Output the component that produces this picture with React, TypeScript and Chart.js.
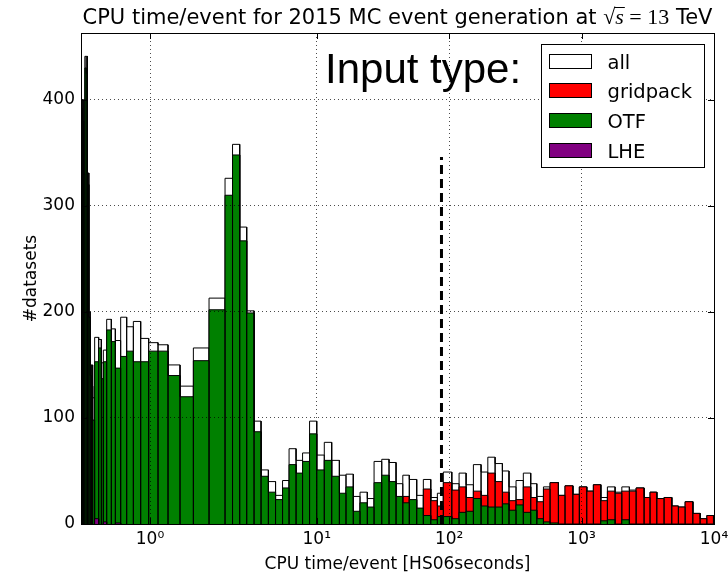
import React, { useEffect, useRef } from "react";
import { Chart, registerables } from "chart.js";

Chart.register(...registerables);

// ---------------- data ----------------
// bin edges, as log10 of CPU time/event [HS06 seconds]
const binEdgesLog10 = [
  -0.414, -0.406, -0.398, -0.391, -0.383, -0.375, -0.367, -0.359, -0.352, -0.344,
  -0.332, -0.308, -0.292, -0.28, -0.26, -0.232, -0.208, -0.176, -0.14, -0.1,
  -0.056, -0.008, 0.048, 0.108, 0.18, 0.26, 0.354, 0.45, 0.495, 0.538,
  0.58, 0.624, 0.666, 0.71, 0.753, 0.795, 0.834, 0.876, 0.915, 0.957,
  1.0, 1.057, 1.113, 1.171, 1.221, 1.276, 1.327, 1.382, 1.433, 1.491,
  1.546, 1.599, 1.65, 1.699, 1.755, 1.805, 1.861, 1.911, 1.956, 2.02,
  2.075, 2.128, 2.183, 2.241, 2.292, 2.347, 2.402, 2.452, 2.505, 2.56,
  2.616, 2.662, 2.712, 2.762, 2.825, 2.875, 2.934, 2.983, 3.039, 3.089,
  3.145, 3.195, 3.253, 3.304, 3.361, 3.412, 3.472, 3.517, 3.568, 3.623,
  3.681, 3.731, 3.782, 3.84, 3.895, 3.946, 3.996,
];

const allCounts = [
  400, 400, 400, 441, 441, 331, 200, 150, 150, 119,
  176, 174, 152, 164, 193, 184, 173, 195, 186, 191,
  175, 171, 169, 150, 130, 166, 213, 326, 358, 280,
  201, 97, 51, 40, 27, 41, 71, 60, 67, 97,
  65, 77, 60, 46, 47, 26, 30, 24, 59, 61,
  58, 38, 46, 42, 27, 42, 25, 29, 49, 38,
  48, 37, 56, 49, 63, 57, 50, 35, 41, 48,
  38, 26, 35, 39, 27, 36, 28, 35, 31, 37,
  25, 35, 30, 35, 32, 34, 25, 30, 24, 25,
  17, 16, 21, 10, 5, 8,
];

const otfCounts = [
  392, 380, 330, 430, 425, 320, 195, 140, 130, 98,
  153, 166, 137, 153, 183, 172, 147, 158, 163, 153,
  153, 163, 163, 140, 120, 154, 202, 310, 348, 267,
  199, 87, 45, 30, 23, 34, 56, 48, 59, 85,
  51, 60, 45, 29, 35, 12, 20, 16, 39, 46,
  40, 26, 20, 23, 15, 8, 4, 7, 7, 5,
  11, 12, 24, 17, 16, 16, 19, 13, 18, 11,
  13, 5, 2, 1, 0, 0, 0, 0, 0, 0,
  3, 4, 0, 4, 0, 0, 0, 0, 0, 0,
  0, 0, 0, 0, 0, 0,
];

const gridpackCounts = [
  0, 0, 0, 0, 0, 0, 0, 0, 0, 0,
  0, 0, 0, 0, 0, 0, 0, 0, 0, 0,
  0, 0, 0, 0, 0, 0, 0, 0, 0, 0,
  0, 0, 0, 0, 0, 0, 0, 0, 0, 0,
  0, 0, 0, 0, 0, 0, 0, 0, 0, 0,
  0, 0, 6, 0, 0, 25, 18, 10, 32, 27,
  24, 13, 7, 10, 32, 24, 11, 9, 5, 24,
  12, 16, 31, 38, 27, 36, 28, 35, 31, 37,
  19, 27, 29, 27, 31, 34, 25, 30, 24, 25,
  17, 16, 21, 10, 5, 8,
];

const lheCounts = [
  0, 0, 0, 0, 0, 0, 0, 0, 0, 0,
  5, 0, 0, 2, 0, 0, 1, 0, 0, 0,
  0, 0, 0, 0, 0, 0, 0, 0, 0, 0,
  0, 0, 0, 0, 0, 0, 0, 0, 0, 0,
  0, 0, 0, 0, 0, 0, 0, 0, 0, 0,
  0, 0, 0, 0, 0, 0, 0, 0, 0, 0,
  0, 0, 0, 0, 0, 0, 0, 0, 0, 0,
  0, 0, 0, 0, 0, 0, 0, 0, 0, 0,
  0, 0, 0, 0, 0, 0, 0, 0, 0, 0,
  0, 0, 0, 0, 0, 0,
];

const seriesLabels = ["all", "gridpack", "OTF", "LHE"];
const seriesColors = ["#ffffff", "#ff0000", "#008000", "#800080"];
const xTickExponents = [0, 1, 2, 3, 4];
const yTicks = [0, 100, 200, 300, 400];
const xMinLog10 = -0.414;
const xMaxLog10 = 4;
const yMax = 463;
const cutLog10 = 1.942;
const cutHeight = 346;

const titleLead = "CPU time/event for 2015 MC event generation at ";
const titleRoot = "\u221A";
const titleVar = "s";
const titleEq = " = 13";
const titleUnit = " TeV";
const xTitle = "CPU time/event [HS06seconds]";
const yTitle = "#datasets";
const noteText = "Input type:";

// ---------------- axis mapping ----------------
// the first decade (10^0 .. 10^1) is drawn wider than the others in the reference
const firstDecadeStretch = 1.259;
const toAxis = (l: number) => (l >= 1 ? l : 1 - (1 - l) * firstDecadeStretch);
const fromAxis = (d: number) => (d >= 1 ? d : 1 - (1 - d) / firstDecadeStretch);
const SUP: Record<number, string> = { 0: "\u2070", 1: "\u00B9", 2: "\u00B2", 3: "\u00B3", 4: "\u2074" };

type Pt = { x: number; y: number | null };

function trace(values: number[], base: number[] | null, onlyNonZero: boolean): Pt[] {
  const pts: Pt[] = [];
  let prevIncluded = true;
  for (let i = 0; i < values.length; i++) {
    const v = values[i];
    if (onlyNonZero && v <= 0) {
      prevIncluded = false;
      continue;
    }
    const x0 = toAxis(binEdgesLog10[i]);
    const x1 = toAxis(binEdgesLog10[i + 1]);
    const top = (base ? base[i] : 0) + v;
    if (!prevIncluded && pts.length) pts.push({ x: x0, y: null });
    pts.push({ x: x0, y: 0 }, { x: x0, y: top }, { x: x1, y: top }, { x: x1, y: 0 });
    prevIncluded = true;
  }
  return pts;
}

const FONT = "DejaVu Sans";

const tickMarks = {
  id: "tickMarks",
  afterDraw(chart: any) {
    const { ctx, chartArea: a, scales } = chart;
    const x = scales.x;
    const y = scales.y;
    ctx.save();
    ctx.strokeStyle = "#000";
    ctx.lineWidth = 1;
    ctx.beginPath();
    x.ticks.forEach((t: any) => {
      const px = Math.round(x.getPixelForValue(t.value)) + 0.5;
      ctx.moveTo(px, a.bottom);
      ctx.lineTo(px, a.bottom - 6);
      ctx.moveTo(px, a.top);
      ctx.lineTo(px, a.top + 6);
    });
    y.ticks.forEach((t: any) => {
      const py = Math.round(y.getPixelForValue(t.value)) + 0.5;
      ctx.moveTo(a.left, py);
      ctx.lineTo(a.left + 6, py);
      ctx.moveTo(a.right, py);
      ctx.lineTo(a.right - 6, py);
    });
    ctx.stroke();
    ctx.restore();
  },
};

const mathTitle = {
  id: "mathTitle",
  afterDraw(chart: any) {
    const { ctx, chartArea: a } = chart;
    const parts = [
      { text: titleLead, font: `21px "${FONT}"` },
      { text: titleRoot, font: `22px "Liberation Serif"` },
      { text: titleVar, font: `italic 22px "Liberation Serif"`, bar: true },
      { text: titleEq, font: `22px "Liberation Serif"` },
      { text: titleUnit, font: `21px "${FONT}"` },
    ];
    ctx.save();
    ctx.fillStyle = "#000";
    ctx.textBaseline = "alphabetic";
    ctx.textAlign = "left";
    let total = 0;
    const widths = parts.map((p) => {
      ctx.font = p.font;
      const w = ctx.measureText(p.text).width;
      total += w;
      return w;
    });
    let x = (a.left + a.right) / 2 - total / 2;
    const base = 24;
    parts.forEach((p, i) => {
      ctx.font = p.font;
      ctx.fillText(p.text, x, base);
      if ((p as any).bar) {
        ctx.strokeStyle = "#000";
        ctx.lineWidth = 1;
        ctx.beginPath();
        ctx.moveTo(x - 1, base - 16.5);
        ctx.lineTo(x + widths[i] + 1, base - 16.5);
        ctx.stroke();
      }
      x += widths[i];
    });
    ctx.font = `42px "Liberation Sans"`;
    ctx.fillText(noteText, 325, 83);
    ctx.restore();
  },
};

const boxLegend = {
  id: "boxLegend",
  afterDraw(chart: any) {
    const { ctx, chartArea: a } = chart;
    const items = chart.data.datasets.filter((d: any) => seriesLabels.includes(d.label));
    const w = 163;
    const h = 123;
    const x = Math.round(a.right - 10 - w) + 0.5;
    const y = Math.round(a.top + 11) + 0.5;
    ctx.save();
    ctx.fillStyle = "#fff";
    ctx.strokeStyle = "#000";
    ctx.lineWidth = 1;
    ctx.fillRect(x, y, w, h);
    ctx.strokeRect(x, y, w, h);
    ctx.font = `19.5px "${FONT}"`;
    ctx.textBaseline = "alphabetic";
    ctx.textAlign = "left";
    items.forEach((d: any, i: number) => {
      const sy = Math.round(y + 9 + i * 29.7) + 0.5;
      ctx.fillStyle = d.backgroundColor;
      ctx.fillRect(x + 8, sy, 42, 14);
      ctx.strokeStyle = "#000";
      ctx.strokeRect(x + 8, sy, 42, 14);
      ctx.fillStyle = "#000";
      ctx.fillText(d.label, x + 66, sy + 14);
    });
    ctx.restore();
  },
};

export default function App() {
  const ref = useRef<HTMLCanvasElement>(null);

  useEffect(() => {
    const canvas = ref.current;
    if (!canvas) return;
    Chart.defaults.font.family = FONT;
    Chart.defaults.color = "#000";

    const stackBase = otfCounts;
    const lineCommon = {
      type: "line" as const,
      borderColor: "#000",
      borderWidth: 1,
      pointRadius: 0,
      pointHoverRadius: 0,
      tension: 0,
      fill: "origin" as const,
      spanGaps: false,
    };

    const gridFont = { family: FONT, size: 17 };
    const gridOpts = { color: "rgba(0,0,0,0.7)", lineWidth: 1, drawTicks: false, z: 1 };
    const borderOpts = { display: true, color: "#000", width: 1, dash: [1, 3], z: 1 };

    const chart = new Chart(canvas, {
      type: "line",
      data: {
        datasets: [
          { ...lineCommon, label: seriesLabels[0], data: trace(allCounts, null, false), backgroundColor: seriesColors[0], order: 5 },
          { ...lineCommon, label: seriesLabels[1], data: trace(gridpackCounts, stackBase, true), backgroundColor: seriesColors[1], order: 4 },
          { ...lineCommon, label: seriesLabels[2], data: trace(otfCounts, null, false), backgroundColor: seriesColors[2], order: 3 },
          { ...lineCommon, label: seriesLabels[3], data: trace(lheCounts, null, true), backgroundColor: seriesColors[3], order: 2 },
          {
            type: "line",
            label: "cut",
            data: [
              { x: toAxis(cutLog10), y: 0 },
              { x: toAxis(cutLog10), y: cutHeight },
            ],
            borderColor: "#000",
            borderWidth: 3,
            borderDash: [9, 5],
            pointRadius: 0,
            fill: false,
            order: 1,
          },
        ] as any,
      },
      options: {
        responsive: false,
        devicePixelRatio: 1,
        animation: false,
        events: [],
        layout: { padding: 0 },
        plugins: {
          legend: { display: false },
          tooltip: { enabled: false },
          title: { display: false },
        },
        scales: {
          x: {
            type: "linear",
            position: "bottom",
            min: toAxis(xMinLog10),
            max: toAxis(xMaxLog10),
            afterBuildTicks: (s: any) => {
              s.ticks = xTickExponents.map((e) => ({ value: toAxis(e) }));
            },
            afterFit: (s: any) => {
              s.height = 52;
              s.paddingLeft = 0;
              s.paddingRight = 0;
            },
            ticks: {
              font: gridFont,
              color: "#000",
              padding: 5,
              maxRotation: 0,
              autoSkip: false,
              callback: (v: any) => "10" + SUP[Math.round(fromAxis(Number(v)))],
            },
            grid: gridOpts,
            border: borderOpts,
            title: { display: true, text: xTitle, font: gridFont, color: "#000", padding: { top: 0, bottom: 1 } },
          },
          y: {
            type: "linear",
            position: "left",
            min: 0,
            max: yMax,
            afterBuildTicks: (s: any) => {
              s.ticks = yTicks.map((v) => ({ value: v }));
            },
            afterFit: (s: any) => {
              s.width = 81;
              s.paddingTop = 0;
              s.paddingBottom = 0;
            },
            ticks: { font: gridFont, color: "#000", padding: 6 },
            grid: gridOpts,
            border: borderOpts,
            title: { display: true, text: yTitle, font: gridFont, color: "#000", padding: { top: 21, bottom: 0 } },
          },
          x2: {
            type: "linear",
            position: "top",
            min: 0,
            max: 1,
            ticks: { display: false },
            grid: { display: false, drawTicks: false },
            border: { display: true, color: "#000", width: 1, z: 1 },
            afterFit: (s: any) => {
              s.height = 33;
              s.paddingLeft = 0;
              s.paddingRight = 0;
            },
          },
          y2: {
            type: "linear",
            position: "right",
            min: 0,
            max: 1,
            ticks: { display: false },
            grid: { display: false, drawTicks: false },
            border: { display: true, color: "#000", width: 1, z: 1 },
            afterFit: (s: any) => {
              s.width = 14;
              s.paddingTop = 0;
              s.paddingBottom = 0;
            },
          },
        } as any,
      },
      plugins: [tickMarks, mathTitle, boxLegend],
    } as any);

    return () => chart.destroy();
  }, []);

  return (
    <div style={{ position: "absolute", left: 0, top: 0, width: 728, height: 576, background: "#fff" }}>
      <canvas ref={ref} width={728} height={576} style={{ display: "block" }} />
    </div>
  );
}
